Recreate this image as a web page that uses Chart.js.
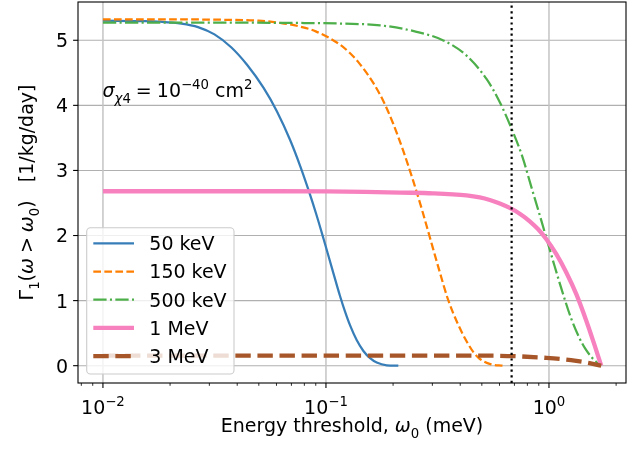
<!DOCTYPE html>
<html><head><meta charset="utf-8">
<script src="https://cdn.jsdelivr.net/npm/chart.js@4.4.0/dist/chart.umd.min.js"></script>
<style>html,body{margin:0;padding:0;background:#fff;} #wrap{width:644px;height:451px;}</style>
</head><body><div id="wrap"><canvas id="c" width="644" height="451"></canvas></div>
<script>
// ---------------- data ----------------
const seriesLabels = ['50 keV', '150 keV', '500 keV', '1 MeV', '3 MeV'];

const x50keV = [0.01, 0.01511, 0.01812, 0.02247, 0.02669, 0.03163, 0.03758, 0.04427, 0.05253, 0.06031, 0.06914, 0.07665, 0.08349, 0.09042, 0.09745, 0.1063, 0.1157, 0.1219, 0.1283, 0.1375, 0.1472, 0.1577, 0.1689, 0.1873, 0.2111];
const y50keV = [5.300, 5.294, 5.285, 5.257, 5.203, 5.090, 4.892, 4.623, 4.267, 3.906, 3.463, 3.067, 2.700, 2.330, 1.954, 1.503, 1.067, 0.827, 0.619, 0.390, 0.226, 0.115, 0.048, 0.006, 0.0];

const x150keV = [0.01, 0.02, 0.035, 0.05, 0.063, 0.0766, 0.09, 0.1157, 0.128, 0.142, 0.163, 0.181, 0.2005, 0.222, 0.246, 0.27, 0.292, 0.32, 0.353, 0.39, 0.427, 0.46, 0.49, 0.55, 0.622];
const y150keV = [5.32, 5.32, 5.315, 5.30, 5.265, 5.21, 5.137, 4.932, 4.804, 4.634, 4.345, 4.063, 3.713, 3.303, 2.843, 2.387, 1.978, 1.50, 1.013, 0.645, 0.376, 0.20, 0.103, 0.021, 0.0];

const x500keV = [0.01, 0.03, 0.08, 0.12, 0.175, 0.255, 0.336, 0.427, 0.5256, 0.602, 0.679, 0.7603, 0.834, 0.9002, 0.9736, 1.0594, 1.1551, 1.2592, 1.3712, 1.4595, 1.5525, 1.6262, 1.715];
const y500keV = [5.27, 5.27, 5.265, 5.255, 5.23, 5.130, 4.998, 4.764, 4.402, 4.048, 3.644, 3.208, 2.743, 2.362, 1.963, 1.532, 1.107, 0.720, 0.421, 0.253, 0.130, 0.061, 0.0];

const x1MeV = [0.01, 0.05, 0.1, 0.15, 0.215, 0.3017, 0.427, 0.4897, 0.543, 0.602, 0.667, 0.7396, 0.82, 0.8901, 0.9736, 1.079, 1.196, 1.326, 1.47, 1.585, 1.715];
const y1MeV = [2.68, 2.68, 2.678, 2.672, 2.660, 2.649, 2.616, 2.585, 2.546, 2.493, 2.424, 2.335, 2.219, 2.103, 1.943, 1.713, 1.432, 1.099, 0.691, 0.361, 0.0];

const x3MeV = [0.01, 0.1, 0.4, 0.6, 0.75, 0.9736, 1.196, 1.326, 1.52, 1.715];
const y3MeV = [0.155, 0.155, 0.155, 0.152, 0.142, 0.12, 0.094, 0.074, 0.04, 0.0];

const xMajorTicks = [0.01, 0.1, 1];
const xMajorExponents = ['\u22122', '\u22121', '0'];
const xMinorTicks = [0.008, 0.009, 0.02, 0.03, 0.04, 0.05, 0.06, 0.07, 0.08, 0.09, 0.2, 0.3, 0.4, 0.5, 0.6, 0.7, 0.8, 0.9, 2];
const yTicks = [0, 1, 2, 3, 4, 5];
const thresholdX = 0.68;

// ---------------- styles ----------------
const styles = [
  {color: '#377eb8', width: 2.25, dash: []},
  {color: '#ff7f00', width: 2.25, dash: [7.7, 3.33]},
  {color: '#4daf4a', width: 2.25, dash: [13.3, 3.33, 2.08, 3.33]},
  {color: '#f781bf', width: 4.3, dash: []},
  {color: '#a65628', width: 4.3, dash: [15.4, 6.67]}
];
const seriesX = [x50keV, x150keV, x500keV, x1MeV, x3MeV];
const seriesY = [y50keV, y150keV, y500keV, y1MeV, y3MeV];

const FONT = '"DejaVu Sans", sans-serif';
const BASE = 19;
function fnt(size, it) { return (it ? 'italic ' : '') + size + 'px ' + FONT; }
function measureRich(ctx, segs) {
  let w = 0;
  for (const s of segs) {
    if (s.gap) { w += s.gap; continue; }
    ctx.font = fnt(BASE * (s.s || 1), s.it);
    w += ctx.measureText(s.t).width;
  }
  return w;
}
function drawRich(ctx, segs, x, y, align) {
  const w = measureRich(ctx, segs);
  let cx = align === 'center' ? x - w / 2 : (align === 'right' ? x - w : x);
  ctx.textAlign = 'left';
  ctx.textBaseline = 'alphabetic';
  for (const s of segs) {
    if (s.gap) { cx += s.gap; continue; }
    ctx.font = fnt(BASE * (s.s || 1), s.it);
    ctx.fillText(s.t, cx, y + (s.dy || 0));
    cx += ctx.measureText(s.t).width;
  }
}

const decor = {
  id: 'decor',
  beforeDatasetsDraw(chart) {
    const {ctx, chartArea: a, scales: {x, y}} = chart;
    ctx.save();
    ctx.lineCap = 'butt';
    ctx.strokeStyle = '#b0b0b0';
    ctx.lineWidth = 1.1;
    for (const v of yTicks) {
      const py = y.getPixelForValue(v);
      ctx.beginPath(); ctx.moveTo(a.left, py); ctx.lineTo(a.right, py); ctx.stroke();
    }
    ctx.strokeStyle = '#c4c4c4';
    ctx.lineWidth = 1.5;
    for (const v of xMajorTicks) {
      const px = x.getPixelForValue(v);
      ctx.beginPath(); ctx.moveTo(px, a.top); ctx.lineTo(px, a.bottom); ctx.stroke();
    }
    ctx.restore();
  },
  afterDatasetsDraw(chart) {
    const {ctx, chartArea: a, scales: {x, y}} = chart;
    ctx.save();
    ctx.beginPath();
    ctx.rect(a.left, a.top, a.right - a.left, a.bottom - a.top);
    ctx.clip();
    const tx = x.getPixelForValue(thresholdX);
    ctx.strokeStyle = '#000';
    ctx.lineWidth = 2.2;
    ctx.setLineDash([2.2, 3.4]);
    ctx.beginPath(); ctx.moveTo(tx, a.bottom); ctx.lineTo(tx, a.top); ctx.stroke();
    ctx.restore();

    ctx.save();
    ctx.setLineDash([]);
    ctx.strokeStyle = '#000';
    ctx.lineWidth = 1.1;
    ctx.strokeRect(a.left, a.top, a.right - a.left, a.bottom - a.top);
    for (const v of xMajorTicks) {
      const px = x.getPixelForValue(v);
      ctx.beginPath(); ctx.moveTo(px, a.bottom); ctx.lineTo(px, a.bottom + 4.9); ctx.stroke();
    }
    ctx.lineWidth = 0.83;
    for (const v of xMinorTicks) {
      const px = x.getPixelForValue(v);
      if (px < a.left || px > a.right) continue;
      ctx.beginPath(); ctx.moveTo(px, a.bottom); ctx.lineTo(px, a.bottom + 2.8); ctx.stroke();
    }
    ctx.lineWidth = 1.1;
    for (const v of yTicks) {
      const py = y.getPixelForValue(v);
      ctx.beginPath(); ctx.moveTo(a.left, py); ctx.lineTo(a.left - 4.9, py); ctx.stroke();
    }
    ctx.fillStyle = '#000';
    ctx.font = fnt(BASE);
    ctx.textAlign = 'right';
    ctx.textBaseline = 'alphabetic';
    for (const v of yTicks) {
      const py = y.getPixelForValue(v);
      ctx.fillText(String(v), a.left - 9.8, py + 6.9);
    }
    xMajorTicks.forEach((v, i) => {
      const px = x.getPixelForValue(v);
      drawRich(ctx, [{t: '10'}, {t: xMajorExponents[i], s: 0.7, dy: -7.6}], px, 413.5, 'center');
    });
    drawRich(ctx, [{t: 'Energy threshold, '}, {t: '\u03c9', it: true}, {t: '0', s: 0.7, dy: 5.5}, {t: ' (meV)'}],
      (a.left + a.right) / 2, 432, 'center');
    ctx.save();
    ctx.translate(33, (a.top + a.bottom) / 2);
    ctx.rotate(-Math.PI / 2);
    drawRich(ctx, [{t: '\u0393'}, {t: '1', s: 0.7, dy: 5.5}, {t: '('}, {t: '\u03c9', it: true}, {gap: 5},
      {t: '>'}, {gap: 5}, {t: '\u03c9', it: true}, {t: '0', s: 0.7, dy: 5.5}, {t: ')'}, {t: '   [1/kg/day]'}], 0, 0, 'center');
    ctx.restore();
    drawRich(ctx, [{t: '\u03c3', it: true}, {t: '\u03c7', it: true, s: 0.7, dy: 5.5}, {t: '4', s: 0.7, dy: 5.5},
      {gap: 5}, {t: '='}, {gap: 5}, {t: '10'}, {t: '\u221240', s: 0.7, dy: -7.6}, {t: ' cm'}, {t: '2', s: 0.7, dy: -7.6}],
      102.5, 97, 'left');
    // legend
    const lx = 86.7, ly = 227.7, lw = 147.3, lh = 146.3, r = 3.8;
    ctx.beginPath();
    ctx.moveTo(lx + r, ly);
    ctx.arcTo(lx + lw, ly, lx + lw, ly + lh, r);
    ctx.arcTo(lx + lw, ly + lh, lx, ly + lh, r);
    ctx.arcTo(lx, ly + lh, lx, ly, r);
    ctx.arcTo(lx, ly, lx + lw, ly, r);
    ctx.closePath();
    ctx.fillStyle = 'rgba(255,255,255,0.8)';
    ctx.fill();
    ctx.strokeStyle = '#cccccc';
    ctx.lineWidth = 1.1;
    ctx.stroke();
    chart.data.datasets.forEach((ds, i) => {
      const yy = 243.3 + i * 28.2;
      ctx.strokeStyle = ds.borderColor;
      ctx.lineWidth = ds.borderWidth;
      ctx.setLineDash(ds.borderDash || []);
      ctx.beginPath(); ctx.moveTo(93.3, yy); ctx.lineTo(134, yy); ctx.stroke();
      ctx.setLineDash([]);
      ctx.fillStyle = '#000';
      ctx.font = fnt(BASE);
      ctx.textAlign = 'left';
      ctx.fillText(ds.label, 149.3, yy + 6.9);
    });
    ctx.restore();
  }
};

const datasets = seriesLabels.map((lab, i) => ({
  label: lab,
  data: seriesX[i].map((xv, j) => ({x: xv, y: seriesY[i][j]})),
  borderColor: styles[i].color,
  borderWidth: styles[i].width,
  borderDash: styles[i].dash,
  borderCapStyle: 'butt',
  borderJoinStyle: 'round',
  pointRadius: 0,
  fill: false,
  cubicInterpolationMode: 'monotone',
  order: seriesLabels.length - i
}));

new Chart(document.getElementById('c'), {
  type: 'line',
  data: {datasets},
  options: {
    responsive: false,
    animation: false,
    devicePixelRatio: 1,
    layout: {padding: {left: 78, right: 18, top: 2, bottom: 68}},
    scales: {
      x: {type: 'logarithmic', min: 0.00773, max: 2.215, display: false},
      y: {type: 'linear', min: -0.266, max: 5.588, display: false}
    },
    plugins: {legend: {display: false}, tooltip: {enabled: false}}
  },
  plugins: [decor]
});
</script>
</body></html>
